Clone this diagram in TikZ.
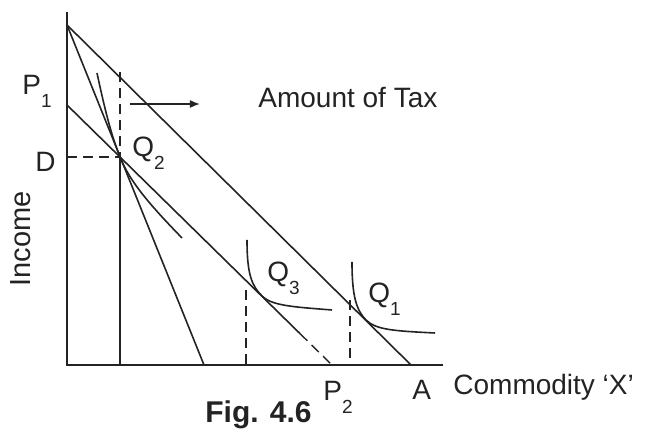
\documentclass[tikz,border=0pt]{standalone}
\usepackage{fontspec}
\setmainfont{Liberation Sans}
\usetikzlibrary{arrows.meta,calc}
\definecolor{inkline}{RGB}{35,35,35}
\newcommand{\sbs}[1]{\raisebox{-0.45em}{\fontsize{9.5}{9.5}\selectfont #1}}
\tikzset{
  axis/.style={draw=inkline,line width=.8pt},
  budget/.style={draw=inkline,line width=.8pt},
  guide/.style={draw=inkline,line width=.7pt,dash pattern=on 5pt off 3pt},
  indiff/.style={draw=inkline,line width=.8pt},
  lbl/.style={inner sep=0pt,font=\fontsize{14}{14}\selectfont,text=inkline},
  taxarrow/.style={-{Latex[length=5pt,width=4pt]},draw=inkline,line width=.8pt},
}

\begin{document}
\begin{tikzpicture}[x=0.5pt,y=-0.5pt]
  \useasboundingbox (0,0) rectangle (650,432);
  \coordinate (O) at (67,365);
  \coordinate (ytop) at (67,12);
  \coordinate (xend) at (443,365);
  \coordinate (T) at (67,25);
  \coordinate (A) at (411,365);
  \coordinate (P1) at (67,105);
  \coordinate (P2) at (332,365);
  \coordinate (Q2) at (120,157);
  \coordinate (S) at (204,365);
  \coordinate (M) at ($(P1)!0.88!(P2)$);
  \coordinate (T3) at (262,296);
  \coordinate (T1) at (366,320);
  \coordinate (G3) at (246,290);
  \coordinate (G1) at (350,300);
  % axes and price lines
  \draw[axis] (ytop) -- (O) -- (xend);
  \draw[budget] (T) -- (A);
  \draw[budget] (T) -- (S);
  \draw[budget] (P1) -- (M);
  \draw[guide] (M) -- (P2);
  % point Q2
  \draw[guide] (O |- Q2) -- (Q2);
  \draw[guide] (120,72) -- (Q2);
  \draw[budget] (Q2) -- (Q2 |- O);
  \draw[indiff] (97,73) .. controls (106,115) and (112,137) .. (Q2)
    .. controls (130,182) and (150,205) .. (182,238);
  % indifference curves Q3, Q1
  \draw[indiff] (247,240) .. controls (247,275) and (252,286) .. (T3)
    .. controls (272,306) and (295,307) .. (332,310);
  \draw[guide] (G3) -- (G3 |- O);
  \draw[indiff] (352,262) .. controls (352,295) and (356,310) .. (T1)
    .. controls (376,330) and (395,331) .. (435,333);
  \draw[guide] (G1) -- (G1 |- O);
  \coordinate (arrs) at (130,104);
  \coordinate (arre) at (200,104);
  \draw[taxarrow] (arrs) -- (arre);
  % labels
  \node[lbl,anchor=base west] (lp1) at (22,95) {P\sbs{1}};
  \node[lbl,anchor=base west] (ld) at (35,172) {D};
  \node[lbl,anchor=base west] (lq2) at (132,157) {Q\sbs{2}};
  \node[lbl,anchor=base west] (ltax) at (258,108) {Amount of Tax};
  \node[lbl,anchor=base west] (lq3) at (267,282) {Q\sbs{3}};
  \node[lbl,anchor=base west] (lq1) at (368,303) {Q\sbs{1}};
  \node[lbl,anchor=base west] (lp2) at (323,401) {P\sbs{2}};
  \node[lbl,anchor=base west] (la) at (412,400) {A};
  \node[lbl,anchor=base west] (lx) at (453,395) {Commodity ‘X’};
  \node[lbl,anchor=base west,rotate=90,font=\fontsize{14.5}{14.5}\selectfont]
    (linc) at (31,287) {Income};
  \node[lbl,anchor=base west,font=\fontsize{15}{15}\selectfont\bfseries]
    (lfig) at (205,423) {Fig. 4.6};
\end{tikzpicture}
\end{document}
